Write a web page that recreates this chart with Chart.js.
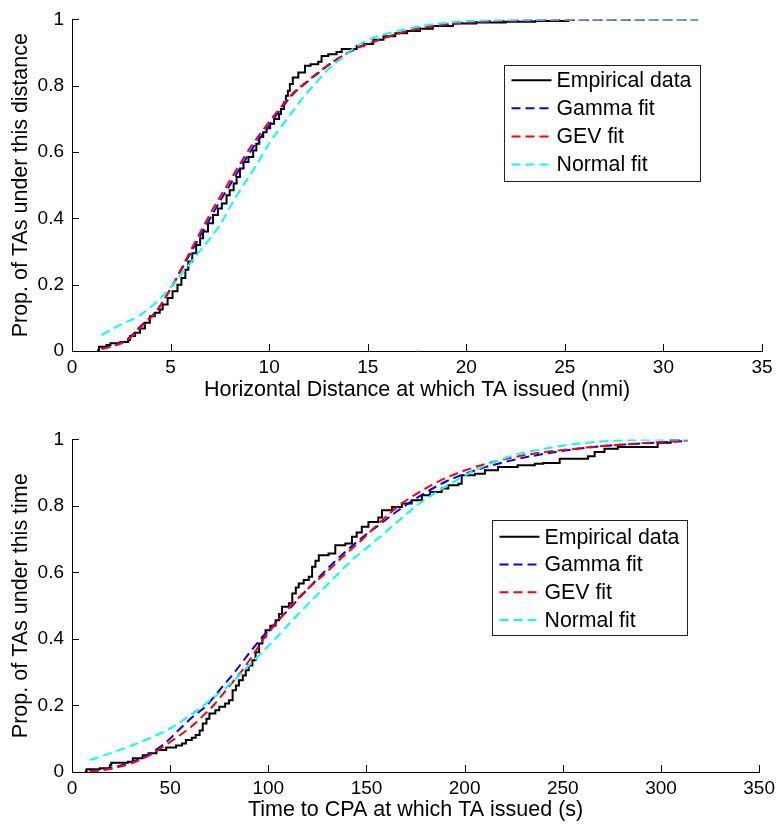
<!DOCTYPE html>
<html><head><meta charset="utf-8">
<script src="https://cdn.jsdelivr.net/npm/chart.js@4.4.1/dist/chart.umd.min.js"></script>
<style>
html,body{margin:0;padding:0;background:#fff;width:780px;height:825px;overflow:hidden;}
#top{position:absolute;left:0;top:0;width:780px;height:420px;}
#bot{position:absolute;left:0;top:420px;width:780px;height:405px;}
</style></head><body>
<div id="top"><canvas id="c1" width="780" height="420"></canvas></div>
<div id="bot"><canvas id="c2" width="780" height="405"></canvas></div>
<script>
// ---------- data ----------
const seriesNames = ['Empirical data', 'Gamma fit', 'GEV fit', 'Normal fit'];
const distTicks = [0, 5, 10, 15, 20, 25, 30, 35];
const timeTicks = [0, 50, 100, 150, 200, 250, 300, 350];
const propTicks = [0, 0.2, 0.4, 0.6, 0.8, 1];
const distTitle = 'Horizontal Distance at which TA issued (nmi)';
const timeTitle = 'Time to CPA at which TA issued (s)';
const distYTitle = 'Prop. of TAs under this distance';
const timeYTitle = 'Prop. of TAs under this time';

// top panel: distance (nmi) -> cumulative proportion
const distEmpirical = [[1.28,0.003],[1.37,0.013],[1.75,0.018],[1.95,0.023],[2.45,0.027],[2.85,0.033],[2.95,0.045],[3.2,0.055],[3.45,0.068],[3.7,0.085],[3.95,0.105],[4.2,0.115],[4.45,0.125],[4.6,0.14],[4.85,0.16],[5.1,0.18],[5.35,0.2],[5.55,0.22],[5.75,0.245],[5.9,0.27],[6.1,0.295],[6.3,0.32],[6.5,0.34],[6.65,0.36],[6.9,0.385],[7.15,0.41],[7.4,0.43],[7.6,0.445],[7.84,0.47],[8.0,0.485],[8.2,0.505],[8.35,0.525],[8.52,0.55],[8.7,0.57],[8.95,0.585],[9.19,0.605],[9.35,0.625],[9.5,0.645],[9.7,0.66],[9.87,0.672],[10.05,0.685],[10.25,0.7],[10.5,0.715],[10.6,0.73],[10.75,0.75],[10.85,0.77],[10.95,0.785],[11.05,0.805],[11.2,0.825],[11.48,0.84],[11.82,0.86],[12.1,0.865],[12.49,0.872],[12.66,0.89],[13.0,0.895],[13.42,0.902],[13.68,0.911],[14.44,0.919],[14.8,0.926],[15.28,0.939],[15.8,0.949],[16.4,0.958],[17.0,0.965],[17.65,0.972],[18.3,0.98],[19.33,0.988],[20.5,0.991],[22.0,0.993],[23.5,0.995],[25.17,1.0]];
const distGamma = [[1.5,0.008],[2.0,0.015],[2.6,0.028],[3.0,0.045],[3.45,0.073],[4.3,0.122],[5.14,0.202],[5.98,0.292],[6.83,0.381],[7.34,0.435],[8.0,0.5],[8.52,0.551],[9.2,0.615],[9.87,0.67],[10.5,0.722],[11.22,0.775],[11.9,0.81],[12.4,0.834],[13.25,0.872],[14.44,0.913],[15.6,0.939],[16.6,0.958],[17.3,0.969],[19.0,0.985],[20.7,0.993],[22.4,0.996],[25.0,0.998],[28.0,0.999],[31.76,1.0]];
const distGEV = [[1.5,0.006],[2.0,0.013],[2.6,0.026],[3.0,0.042],[3.45,0.07],[4.3,0.12],[5.14,0.203],[5.95,0.295],[6.75,0.385],[7.26,0.44],[7.92,0.505],[8.44,0.556],[9.12,0.62],[9.8,0.675],[10.45,0.725],[11.2,0.777],[11.9,0.812],[12.4,0.836],[13.25,0.873],[14.44,0.913],[15.6,0.939],[16.6,0.958],[17.3,0.969],[19.0,0.985],[20.7,0.993],[22.4,0.996],[25.0,0.998],[28.0,0.999],[31.76,1.0]];
const distNormal = [[1.5,0.048],[2.43,0.078],[3.45,0.108],[4.46,0.157],[5.48,0.227],[6.49,0.302],[7.5,0.38],[8.18,0.451],[8.69,0.5],[9.4,0.565],[10.04,0.63],[10.6,0.675],[11.22,0.725],[11.8,0.77],[12.4,0.81],[12.92,0.845],[13.59,0.879],[14.44,0.919],[15.28,0.944],[16.1,0.959],[17.65,0.979],[19.0,0.99],[20.5,0.996],[23.0,0.999],[31.76,1.0]];

// bottom panel: time to CPA (s) -> cumulative proportion
const timeEmpirical = [[6.6,0.003],[7.4,0.008],[14.2,0.011],[19.3,0.02],[20.0,0.028],[28.5,0.031],[31.0,0.041],[36.0,0.05],[39.0,0.056],[43.0,0.066],[48.0,0.074],[53.0,0.08],[56.0,0.086],[58.0,0.096],[61.0,0.103],[63.0,0.111],[65.0,0.125],[66.6,0.146],[68.5,0.16],[70.0,0.176],[73.0,0.186],[75.0,0.196],[78.0,0.206],[80.0,0.216],[81.8,0.246],[83.5,0.26],[85.0,0.276],[87.0,0.29],[88.5,0.306],[90.0,0.32],[91.9,0.336],[93.5,0.36],[95.3,0.386],[97.0,0.405],[98.6,0.426],[101.0,0.44],[103.7,0.456],[105.5,0.475],[107.0,0.497],[110.5,0.507],[112.2,0.537],[114.0,0.555],[115.5,0.567],[118.0,0.577],[120.6,0.587],[122.3,0.617],[124.0,0.635],[125.7,0.652],[130.7,0.657],[134.1,0.682],[139.2,0.687],[142.6,0.707],[145.0,0.72],[147.6,0.737],[151.0,0.752],[156.0,0.765],[157.9,0.787],[163.0,0.797],[168.0,0.807],[173.0,0.817],[178.2,0.832],[182.4,0.842],[188.3,0.852],[191.7,0.862],[196.8,0.867],[198.5,0.892],[205.2,0.897],[210.3,0.907],[217.0,0.917],[227.0,0.922],[235.7,0.927],[240.0,0.929],[248.4,0.942],[262.8,0.949],[266.2,0.962],[271.2,0.972],[278.0,0.977],[298.3,0.99],[305.0,1.0],[309.5,1.0]];
const timeGamma = [[9.0,0.003],[15.0,0.007],[20.0,0.012],[25.0,0.02],[31.0,0.031],[36.0,0.044],[41.2,0.061],[48.0,0.09],[55.0,0.13],[61.5,0.166],[68.6,0.2],[75.0,0.245],[82.8,0.3],[90.0,0.355],[96.1,0.4],[104.0,0.45],[112.2,0.5],[120.0,0.55],[128.2,0.6],[137.0,0.65],[146.8,0.7],[156.2,0.742],[166.3,0.787],[176.5,0.827],[190.0,0.872],[207.0,0.91],[223.9,0.937],[240.8,0.957],[257.7,0.972],[274.6,0.982],[291.5,0.988],[313.5,0.995]];
const timeGEV = [[9.0,0.002],[15.0,0.005],[20.0,0.01],[25.0,0.017],[31.0,0.028],[36.0,0.04],[41.2,0.056],[46.0,0.074],[51.4,0.096],[56.0,0.115],[61.5,0.14],[66.0,0.165],[72.0,0.2],[79.0,0.25],[86.0,0.3],[92.0,0.35],[97.5,0.4],[104.5,0.45],[111.5,0.5],[120.0,0.55],[129.5,0.6],[138.5,0.65],[148.0,0.7],[156.2,0.747],[166.3,0.8],[176.5,0.84],[190.0,0.883],[207.0,0.92],[223.9,0.945],[240.8,0.962],[257.7,0.973],[274.6,0.982],[291.5,0.989],[313.5,0.997]];
const timeNormal = [[9.1,0.036],[19.3,0.056],[31.0,0.081],[41.2,0.106],[51.4,0.136],[61.5,0.176],[71.6,0.221],[81.8,0.271],[91.9,0.331],[102.0,0.391],[112.2,0.456],[122.3,0.517],[132.4,0.577],[142.6,0.637],[152.7,0.686],[166.3,0.755],[176.5,0.805],[190.0,0.857],[207.0,0.912],[223.9,0.95],[240.8,0.972],[257.7,0.987],[274.6,0.996],[291.5,0.999],[313.5,1.0]];

// ---------- drawing ----------
const FONT = "'Liberation Sans', Arial, Helvetica, sans-serif";
const toPts = arr => arr.map(p => ({x: p[0], y: p[1]}));

const inwardTicks = {
  id: 'inwardTicks',
  afterDatasetsDraw(chart) {
    const {ctx, chartArea: a, scales} = chart;
    ctx.save();
    ctx.strokeStyle = '#000';
    ctx.lineWidth = 1;
    ctx.beginPath();
    scales.x.ticks.forEach(t => {
      const px = Math.round(scales.x.getPixelForValue(t.value)) + 0.5;
      ctx.moveTo(px, a.bottom);
      ctx.lineTo(px, a.bottom - 7);
    });
    scales.y.ticks.forEach(t => {
      const py = Math.round(scales.y.getPixelForValue(t.value)) + 0.5;
      ctx.moveTo(a.left, py);
      ctx.lineTo(a.left + 7, py);
    });
    ctx.stroke();
    ctx.restore();
  }
};

const boxLegend = {
  id: 'boxLegend',
  afterDraw(chart, args, opts) {
    const {ctx} = chart;
    const o = opts;
    ctx.save();
    ctx.fillStyle = '#fff';
    ctx.fillRect(o.x, o.y, o.w, o.h);
    ctx.strokeStyle = '#222';
    ctx.lineWidth = 1;
    ctx.strokeRect(Math.round(o.x) + 0.5, Math.round(o.y) + 0.5, Math.round(o.w), Math.round(o.h));
    ctx.font = o.size + 'px ' + FONT;
    ctx.textBaseline = 'middle';
    ctx.textAlign = 'left';
    chart.data.datasets.forEach((ds, i) => {
      const cy = o.y + o.first + i * o.step;
      ctx.beginPath();
      ctx.strokeStyle = ds.borderColor;
      ctx.lineWidth = 2;
      ctx.setLineDash(ds.borderDash || []);
      ctx.moveTo(o.x + o.s0, cy);
      ctx.lineTo(o.x + o.s1, cy);
      ctx.stroke();
      ctx.setLineDash([]);
      ctx.fillStyle = '#000';
      ctx.fillText(ds.label, o.x + o.tx, cy + 1);
    });
    ctx.restore();
  }
};

function makeChart(id, cfg) {
  const dash = [9, 5];
  return new Chart(document.getElementById(id), {
    type: 'line',
    data: {
      datasets: [
        {label: seriesNames[0], data: toPts(cfg.emp), borderColor: '#000000', borderWidth: 2, stepped: 'before', pointRadius: 0, fill: false, order: 4},
        {label: seriesNames[1], data: toPts(cfg.gamma), borderColor: '#0000ff', borderWidth: 2, borderDash: dash, pointRadius: 0, fill: false, cubicInterpolationMode: 'monotone', order: 3},
        {label: seriesNames[2], data: toPts(cfg.gev), borderColor: '#ff0000', borderWidth: 2, borderDash: dash, pointRadius: 0, fill: false, cubicInterpolationMode: 'monotone', order: 2},
        {label: seriesNames[3], data: toPts(cfg.normal), borderColor: '#00ffff', borderWidth: 2, borderDash: dash, pointRadius: 0, fill: false, cubicInterpolationMode: 'monotone', order: 1}
      ]
    },
    options: {
      responsive: false,
      animation: false,
      devicePixelRatio: 1,
      layout: {padding: {top: cfg.padTop, right: 18, left: 0, bottom: 0}},
      plugins: {
        legend: {display: false},
        tooltip: {enabled: false},
        boxLegend: cfg.legend
      },
      scales: {
        x: {
          type: 'linear',
          min: cfg.xTicks[0], max: cfg.xTicks[cfg.xTicks.length - 1],
          afterBuildTicks: s => { s.ticks = cfg.xTicks.map(v => ({value: v})); },
          afterFit: s => { s.height = cfg.xHeight; },
          grid: {display: true, drawOnChartArea: false, drawTicks: false},
          border: {display: true, color: '#000', width: 1},
          ticks: {color: '#000', font: {family: FONT, size: 19}, padding: 5, maxRotation: 0, autoSkip: false},
          title: {display: true, text: cfg.xTitle, color: '#000', font: {family: FONT, size: 21.5}, padding: {top: 0, bottom: cfg.xTitlePad}}
        },
        y: {
          type: 'linear',
          min: 0, max: 1,
          afterBuildTicks: s => { s.ticks = propTicks.map(v => ({value: v})); },
          afterFit: s => { s.width = 72; },
          grid: {display: true, drawOnChartArea: false, drawTicks: false},
          border: {display: true, color: '#000', width: 1},
          ticks: {color: '#000', font: {family: FONT, size: 19}, padding: 8, callback: v => String(v)},
          title: {display: true, text: cfg.yTitle, color: '#000', font: {family: FONT, size: 21.5}, padding: {top: 8, bottom: 0}}
        }
      }
    },
    plugins: [inwardTicks, boxLegend]
  });
}

makeChart('c1', {
  emp: distEmpirical, gamma: distGamma, gev: distGEV, normal: distNormal,
  xTicks: distTicks, xTitle: distTitle, yTitle: distYTitle,
  padTop: 16, xHeight: 69, xTitlePad: 17,
  legend: {x: 503.5, y: 64.5, w: 196, h: 116, s0: 8, s1: 48, tx: 53, first: 15.7, step: 28.1, size: 21.3}
});
makeChart('c2', {
  emp: timeEmpirical, gamma: timeGamma, gev: timeGEV, normal: timeNormal,
  xTicks: timeTicks, xTitle: timeTitle, yTitle: timeYTitle,
  padTop: 19, xHeight: 53, xTitlePad: 2,
  legend: {x: 491.5, y: 100, w: 195, h: 115, s0: 8, s1: 48, tx: 53, first: 16.7, step: 27.8, size: 21.3}
});
</script>
</body></html>
